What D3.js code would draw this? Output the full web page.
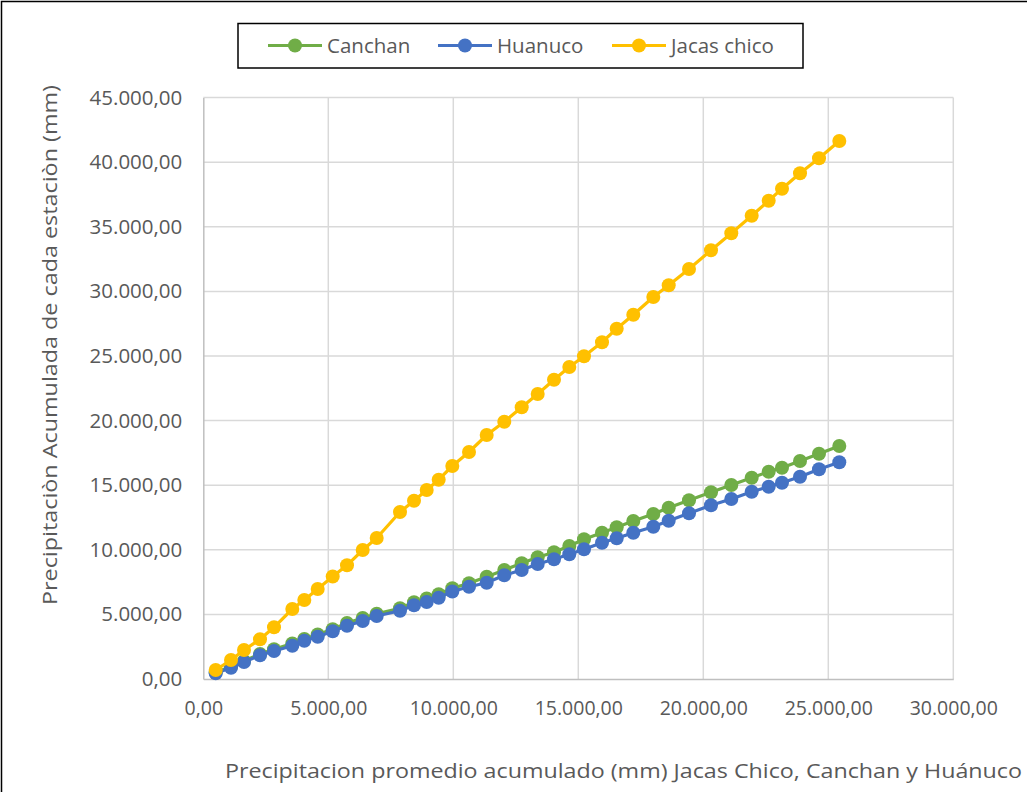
<!DOCTYPE html>
<html><head><meta charset="utf-8">
<script src="https://cdn.jsdelivr.net/npm/d3@7"></script>
<style>
html,body{margin:0;padding:0;background:#fff;}
svg text{font-family:"Open Sans",sans-serif;fill:#595959;}
</style></head>
<body><svg id="chart" width="1027" height="792"></svg>
<script>
const xVals = [496,1108,1628,2268,2828,3560,4040,4576,5176,5748,6376,6936,7868,8428,8936,9416,9960,10628,11336,12040,12736,13376,14028,14640,15228,15948,16536,17200,18000,18616,19428,20308,21120,21936,22616,23148,23868,24628,25440];
const canchan = [500,960,1400,1930,2300,2750,3100,3450,3850,4330,4720,5050,5480,5950,6230,6560,7020,7407,7918,8437,8955,9420,9807,10294,10813,11324,11742,12229,12771,13259,13832,14451,15016,15581,16045,16355,16873,17438,18034];
const huanuco = [441,875,1316,1834,2167,2577,2964,3274,3692,4125,4489,4876,5286,5704,5960,6293,6770,7144,7454,8026,8437,8901,9265,9652,10039,10550,10890,11324,11788,12253,12825,13445,13932,14497,14884,15194,15658,16231,16773];
const jacas = [697,1471,2245,3073,4002,5418,6114,6966,7934,8800,9985,10913,12926,13800,14629,15426,16486,17570,18886,19915,21030,22059,23166,24149,24977,26061,27113,28197,29567,30473,31734,33182,34497,35860,37021,37950,39142,40302,41641];
const seriesNames = ["Canchan","Huanuco","Jacas chico"];
const seriesColors = ["#70ad47","#4472c4","#ffc000"];
const xTicks = [0,5000,10000,15000,20000,25000,30000];
const yTicks = [0,5000,10000,15000,20000,25000,30000,35000,40000,45000];
const xTitle = "Precipitacion promedio acumulado (mm) Jacas Chico, Canchan y Huánuco";
const yTitle = "Precipitaciòn Acumulada de cada estaciòn (mm)";

const series = [canchan, huanuco, jacas];
const svg = d3.select("#chart");
const L = 203.3, R = 953.3, T = 97.6, B = 679;
const x = d3.scaleLinear().domain([0,30000]).range([L,R]);
const y = d3.scaleLinear().domain([0,45000]).range([B,T]);
const loc = d3.formatLocale({decimal:",",thousands:".",grouping:[3],currency:["",""]});
const fmt = loc.format(",.2f");

// outer frame
svg.append("rect").attr("x",1.5).attr("y",1.5).attr("width",1100).attr("height",900)
  .attr("fill","none").attr("stroke","#000").attr("stroke-width",1.5);

// grid
const g = svg.append("g");
g.selectAll(".hg").data(yTicks.slice(1)).enter().append("line")
  .attr("x1",L).attr("x2",R).attr("y1",d=>y(d)).attr("y2",d=>y(d))
  .attr("stroke","#d9d9d9").attr("stroke-width",1.5);
g.selectAll(".vg").data(xTicks.slice(1)).enter().append("line")
  .attr("y1",T).attr("y2",B).attr("x1",d=>x(d)).attr("x2",d=>x(d))
  .attr("stroke","#d9d9d9").attr("stroke-width",1.5);

// axes
const xAxis = d3.axisBottom(x).tickValues(xTicks).tickFormat(fmt).tickSize(0).tickPadding(25);
const gx = svg.append("g").attr("transform",`translate(0,${B})`).call(xAxis);
gx.select(".domain").attr("stroke","#bfbfbf").attr("stroke-width",1.5);
gx.selectAll("text").style("font-size","19.5px").attr("fill","#595959").attr("dy","0.55em");
const yAxis = d3.axisLeft(y).tickValues(yTicks).tickFormat(fmt).tickSize(0).tickPadding(21);
const gy = svg.append("g").attr("transform",`translate(${L},0)`).call(yAxis);
gy.select(".domain").attr("stroke","#bfbfbf").attr("stroke-width",1.5);
gy.selectAll("text").style("font-size","20.5px").attr("fill","#595959");
svg.selectAll(".tick line").remove();

// lines & markers
series.forEach((vals,i)=>{
  const pts = xVals.map((xv,j)=>[xv,vals[j]]);
  const line = d3.line().x(d=>x(d[0])).y(d=>y(d[1]));
  svg.append("path").datum(pts).attr("d",line).attr("fill","none")
    .attr("stroke",seriesColors[i]).attr("stroke-width",3.2).attr("stroke-linejoin","round");
  svg.append("g").selectAll("circle").data(pts).enter().append("circle")
    .attr("cx",d=>x(d[0])).attr("cy",d=>y(d[1])).attr("r",7)
    .attr("fill",seriesColors[i]);
});

// titles
svg.append("text").attr("x",225).attr("y",778).attr("textLength",797)
  .attr("lengthAdjust","spacingAndGlyphs").style("font-size","20px").text(xTitle);
svg.append("text").attr("transform","translate(57,345) rotate(-90)").attr("text-anchor","middle")
  .attr("textLength",520).attr("lengthAdjust","spacingAndGlyphs").style("font-size","20px").text(yTitle);

// legend
svg.append("rect").attr("x",238).attr("y",23.5).attr("width",565).attr("height",44.5)
  .attr("fill","#fff").attr("stroke","#000").attr("stroke-width",1.5);
const legX = [268,438,612];
seriesNames.forEach((n,i)=>{
  const lg = svg.append("g").attr("transform",`translate(${legX[i]},45.5)`);
  lg.append("line").attr("x1",0).attr("x2",54).attr("stroke",seriesColors[i]).attr("stroke-width",3.2);
  lg.append("circle").attr("cx",27).attr("r",7).attr("fill",seriesColors[i]);
  lg.append("text").attr("x",59).attr("dy","0.35em").style("font-size","20.5px").text(n);
});
</script></body></html>
